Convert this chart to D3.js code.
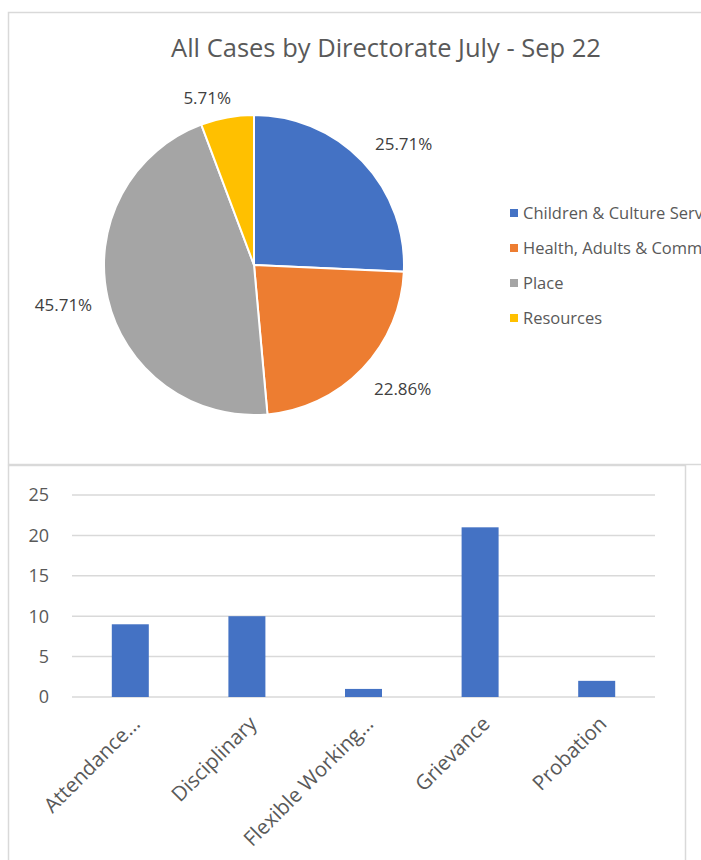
<!DOCTYPE html>
<html>
<head>
<meta charset="utf-8">
<script src="https://cdn.jsdelivr.net/npm/d3@7"></script>
<style>
  body { margin: 0; background: #fff; }
  text { font-family: "Open Sans", "Noto Sans", sans-serif; }
</style>
</head>
<body>
<div id="chart"></div>
<script>
// Pie data
const directorates = ["Children & Culture Services", "Health, Adults & Communities", "Place", "Resources"];
const directorateCases = [9, 8, 16, 2];
const pieLabels = ["25.71%", "22.86%", "45.71%", "5.71%"];
const pieColors = ["#4472c4", "#ed7d31", "#a5a5a5", "#ffc000"];

// Bar data
const caseTypes = ["Attendance...", "Disciplinary", "Flexible Working...", "Grievance", "Probation"];
const caseCounts = [9, 10, 1, 21, 2];
const yTicks = [0, 5, 10, 15, 20, 25];

const W = 701, H = 860;

const svg = d3.select("#chart")
    .append("svg")
    .attr("width", W)
    .attr("height", H);

svg.append("rect").attr("width", W).attr("height", H).attr("fill", "#fff");

// Chart frames
svg.append("rect")
    .attr("x", 8.5).attr("y", 12.5)
    .attr("width", 760).attr("height", 452)
    .attr("fill", "none").attr("stroke", "#d9d9d9").attr("stroke-width", 1.5);
svg.append("rect")
    .attr("x", 8.5).attr("y", 465.5)
    .attr("width", 677).attr("height", 420)
    .attr("fill", "none").attr("stroke", "#d9d9d9").attr("stroke-width", 1.5);

// Title
svg.append("text")
    .attr("x", 386).attr("y", 57)
    .attr("text-anchor", "middle")
    .style("font-size", "25.5px")
    .style("fill", "#595959")
    .text("All Cases by Directorate July - Sep 22");

// Pie
const cx = 254, cy = 265, r = 150;
const pie = d3.pie().sort(null).value(d => d);
const arcs = pie(directorateCases);
const arc = d3.arc().innerRadius(0).outerRadius(r);

const pieG = svg.append("g").attr("transform", `translate(${cx},${cy})`);
pieG.selectAll("path")
    .data(arcs)
    .enter()
    .append("path")
    .attr("d", arc)
    .attr("fill", (d, i) => pieColors[i])
    .attr("stroke", "#fff")
    .attr("stroke-width", 2);

// Outside labels
const labelArc = d3.arc().innerRadius(r + 28).outerRadius(r + 28);
const labelOffsets = [[21, 2], [20, 1], [-17, 0], [-15, 8]];
pieG.selectAll("text.pct")
    .data(arcs)
    .enter()
    .append("text")
    .attr("class", "pct")
    .attr("x", (d, i) => labelArc.centroid(d)[0] + labelOffsets[i][0])
    .attr("y", (d, i) => labelArc.centroid(d)[1] + labelOffsets[i][1])
    .attr("text-anchor", "middle")
    .attr("dy", "0.35em")
    .style("font-size", "17px")
    .style("fill", "#404040")
    .text((d, i) => pieLabels[i]);

// Legend
const legend = svg.append("g").attr("transform", "translate(510,213)");
const legendRow = legend.selectAll("g")
    .data(directorates)
    .enter()
    .append("g")
    .attr("transform", (d, i) => `translate(0,${i * 35})`);
legendRow.append("rect")
    .attr("x", 0).attr("y", -4)
    .attr("width", 8).attr("height", 8)
    .attr("fill", (d, i) => pieColors[i]);
legendRow.append("text")
    .attr("x", 13).attr("dy", "0.35em")
    .style("font-size", "16.5px")
    .style("fill", "#595959")
    .text(d => d);

// Bar chart
const plot = {left: 72, right: 655, top: 495, bottom: 697};

const x = d3.scaleBand()
    .domain(caseTypes)
    .range([plot.left, plot.right]);

const y = d3.scaleLinear()
    .domain([0, 25])
    .range([plot.bottom, plot.top]);

// Grid lines
svg.selectAll("line.grid")
    .data(yTicks)
    .enter()
    .append("line")
    .attr("class", "grid")
    .attr("x1", plot.left).attr("x2", plot.right)
    .attr("y1", d => y(d)).attr("y2", d => y(d))
    .style("stroke", "#d9d9d9")
    .style("stroke-width", 1.5);

// Y axis labels
svg.selectAll("text.ytick")
    .data(yTicks)
    .enter()
    .append("text")
    .attr("class", "ytick")
    .attr("x", 49)
    .attr("y", d => y(d))
    .attr("dy", "0.35em")
    .attr("text-anchor", "end")
    .style("font-size", "18px")
    .style("fill", "#595959")
    .text(d => d);

// Bars
const barW = 37;
svg.selectAll("rect.bar")
    .data(caseCounts)
    .enter()
    .append("rect")
    .attr("class", "bar")
    .attr("x", (d, i) => x(caseTypes[i]) + x.bandwidth() / 2 - barW / 2)
    .attr("y", d => y(d))
    .attr("width", barW)
    .attr("height", d => y(0) - y(d))
    .attr("fill", "#4472c4");

// X labels
svg.selectAll("text.xtick")
    .data(caseTypes)
    .enter()
    .append("text")
    .attr("class", "xtick")
    .attr("transform", d => `translate(${x(d) + x.bandwidth() / 2 + 6},${plot.bottom + 23}) rotate(-45)`)
    .attr("text-anchor", "end")
    .attr("dy", "0.35em")
    .style("font-size", "20.5px")
    .style("fill", "#595959")
    .text(d => d);
</script>
</body>
</html>
